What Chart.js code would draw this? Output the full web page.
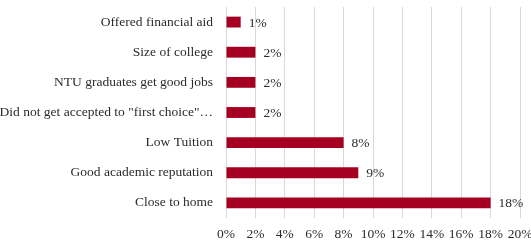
<!DOCTYPE html>
<html>
<head>
<meta charset="utf-8">
<script src="https://cdn.jsdelivr.net/npm/chart.js@4/dist/chart.umd.min.js"></script>
<style>
  html, body { margin: 0; padding: 0; background: #ffffff; }
  #wrap { width: 531px; height: 240px; position: relative; }
</style>
</head>
<body>
<div id="wrap"><canvas id="c"></canvas></div>
<script>
const categories = [
  "Offered financial aid",
  "Size of college",
  "NTU graduates get good jobs",
  "Did not get accepted to \"first choice\"…",
  "Low Tuition",
  "Good academic reputation",
  "Close to home"
];
const percentValues = [1, 2, 2, 2, 8, 9, 18];
const xTickMin = 0;
const xTickMax = 20;
const xTickStep = 2;

const FONT = "'Liberation Serif', 'Times New Roman', serif";
const FSIZE = 13.5;
const TEXT = "#2b2b2b";

const valueLabels = {
  id: 'valueLabels',
  afterDatasetsDraw(chart) {
    const ctx = chart.ctx;
    ctx.save();
    ctx.font = FSIZE + "px " + FONT;
    ctx.fillStyle = TEXT;
    ctx.textAlign = 'left';
    ctx.textBaseline = 'middle';
    chart.data.datasets.forEach((ds, di) => {
      chart.getDatasetMeta(di).data.forEach((bar, i) => {
        ctx.fillText(ds.data[i] + '%', bar.x + 8, bar.y + 1);
      });
    });
    ctx.restore();
  }
};

new Chart(document.getElementById('c'), {
  type: 'bar',
  data: {
    labels: categories,
    datasets: [{
      data: percentValues,
      backgroundColor: '#A50021',
      borderWidth: 0,
      categoryPercentage: 1,
      barPercentage: 0.36
    }]
  },
  options: {
    indexAxis: 'y',
    responsive: true,
    maintainAspectRatio: false,
    animation: false,
    devicePixelRatio: 1,
    layout: { padding: { left: 0, right: 11, top: 7, bottom: 0 } },
    plugins: { legend: { display: false }, tooltip: { enabled: false } },
    scales: {
      x: {
        min: xTickMin,
        max: xTickMax,
        ticks: {
          stepSize: xTickStep,
          callback: v => v + '%',
          color: TEXT,
          font: { family: FONT, size: FSIZE },
          padding: 8,
          maxRotation: 0
        },
        grid: { color: '#d9d9d9', drawTicks: false, lineWidth: 1 },
        border: { display: false },
        afterFit(scale) {
          scale.height = 22;
          scale.paddingLeft = 0;
          scale.paddingRight = 0;
        }
      },
      y: {
        ticks: {
          color: TEXT,
          font: { family: FONT, size: FSIZE },
          padding: 13,
          autoSkip: false
        },
        grid: { display: false, drawTicks: false },
        border: { display: false },
        afterFit(scale) {
          scale.width = 226;
          scale.paddingTop = 0;
          scale.paddingBottom = 0;
        }
      }
    }
  },
  plugins: [valueLabels]
});
</script>
</body>
</html>
